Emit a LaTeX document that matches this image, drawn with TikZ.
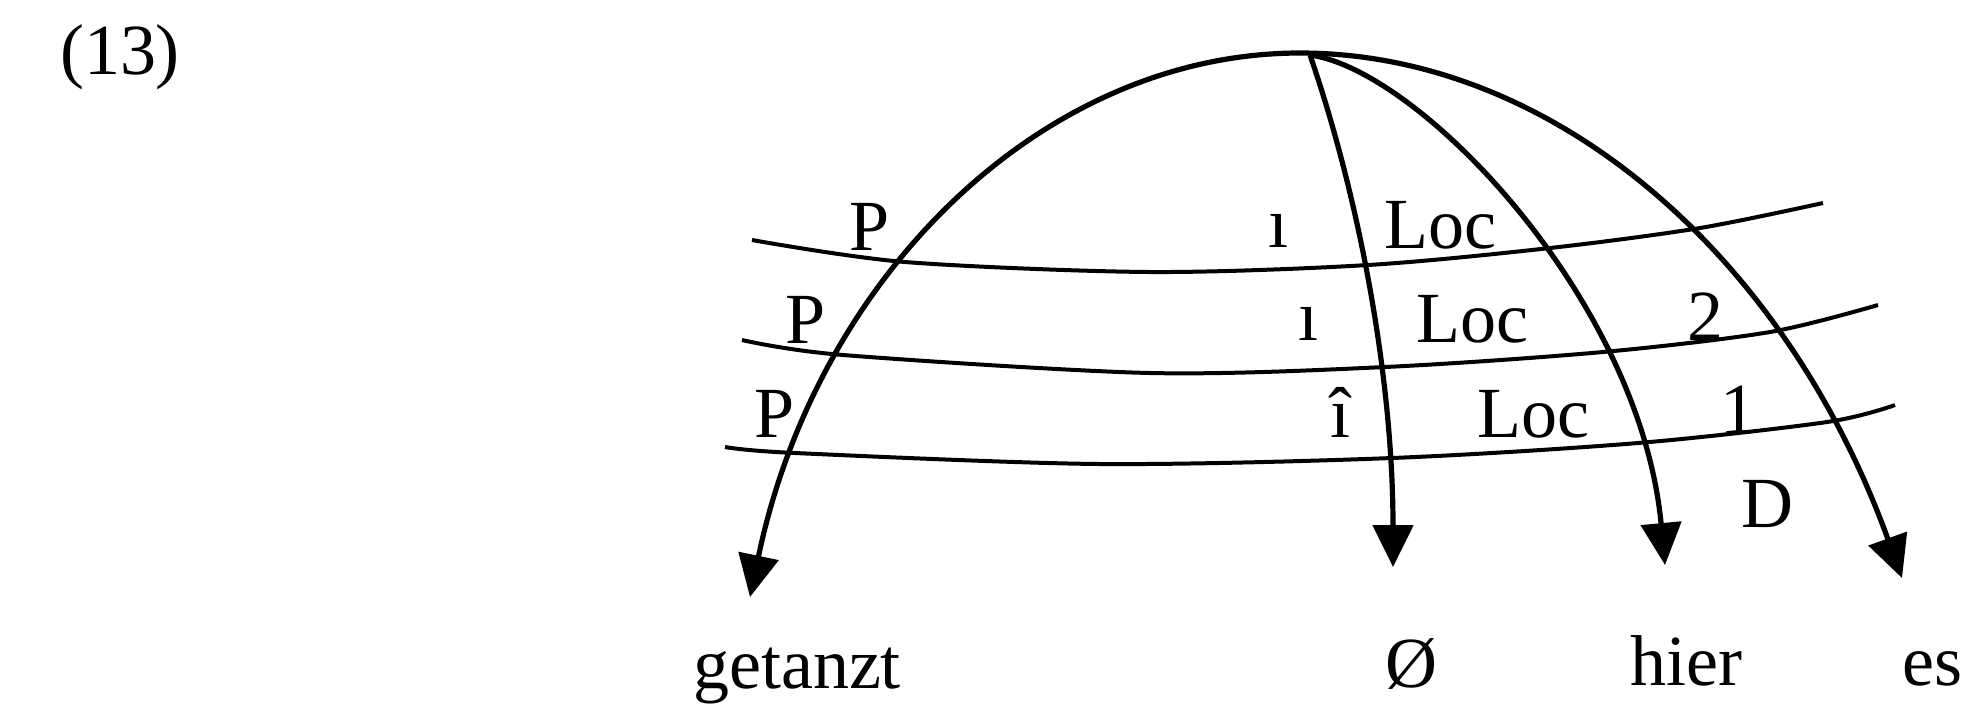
\documentclass[tikz,border=0pt]{standalone}
\usepackage{fontspec}
\setmainfont{Liberation Serif}
\usetikzlibrary{arrows.meta}
\begin{document}
\begin{tikzpicture}[x=0.5pt,y=-0.5pt,
  lbl/.style={inner sep=0pt, anchor=base, font=\fontsize{36}{43}\selectfont},
  dep/.style={line width=2.6pt, -{Triangle[length=21pt,width=20pt]}},
  band/.style={line width=2pt}]
\useasboundingbox (0,0) rectangle (1971,709);

% example number
\node[lbl] (num) at (120,74) {(13)};

% words
\node[lbl] (getanzt) at (797,688) {getanzt};
\node[lbl] (null) at (1411,687) {Ø};
\node[lbl] (hier) at (1686,685) {hier};
\node[lbl] (es) at (1932,685) {es};

% arc end points
\coordinate (root) at (1300,53);
\coordinate (rootB) at (1310,55);
\coordinate (tipG) at (750,597);
\coordinate (tipN) at (1393,567);
\coordinate (tipH) at (1665,565);
\coordinate (tipE) at (1902,578);

% strata lines
\draw[band] plot[smooth, tension=0.5] coordinates {(752,240) (905,262) (1150,272) (1368,265) (1550,248) (1700,228) (1823,203)};
\draw[band] plot[smooth, tension=0.5] coordinates {(742,340) (843,355) (1150,373) (1385,367) (1603,352) (1770,332) (1878,305)};
\draw[band] plot[smooth, tension=0.5] coordinates {(725,447) (795,453) (1100,464) (1392,458) (1638,443) (1827,422) (1895,405)};

% arcs
\draw[dep] (root) .. controls (1043,53) and (817,276) .. (tipG);
\draw[dep] (root) .. controls (1553,53) and (1785,255) .. (tipE);
\draw[dep] (rootB) .. controls (1360,200) and (1393,380) .. (tipN);
\draw[dep] (rootB) .. controls (1420,70) and (1640,300) .. (tipH);

% relation labels
\node[lbl] (p1) at (870,250) {P};
\node[lbl] (p2) at (806,343) {P};
\node[lbl] (p3) at (775,437) {P};
\node[lbl] (i1) at (1278,247) {ı};
\node[lbl] (i2) at (1308,340) {ı};
\node[lbl] (i3) at (1340,437) {î};
\node[lbl] (loc1) at (1440,248) {Loc};
\node[lbl] (loc2) at (1472,342) {Loc};
\node[lbl] (loc3) at (1533,437) {Loc};
\node[lbl] (two) at (1705,340) {2};
\node[lbl] (one) at (1738,433) {1};
\node[lbl] (d) at (1767,527) {D};
\end{tikzpicture}
\end{document}
